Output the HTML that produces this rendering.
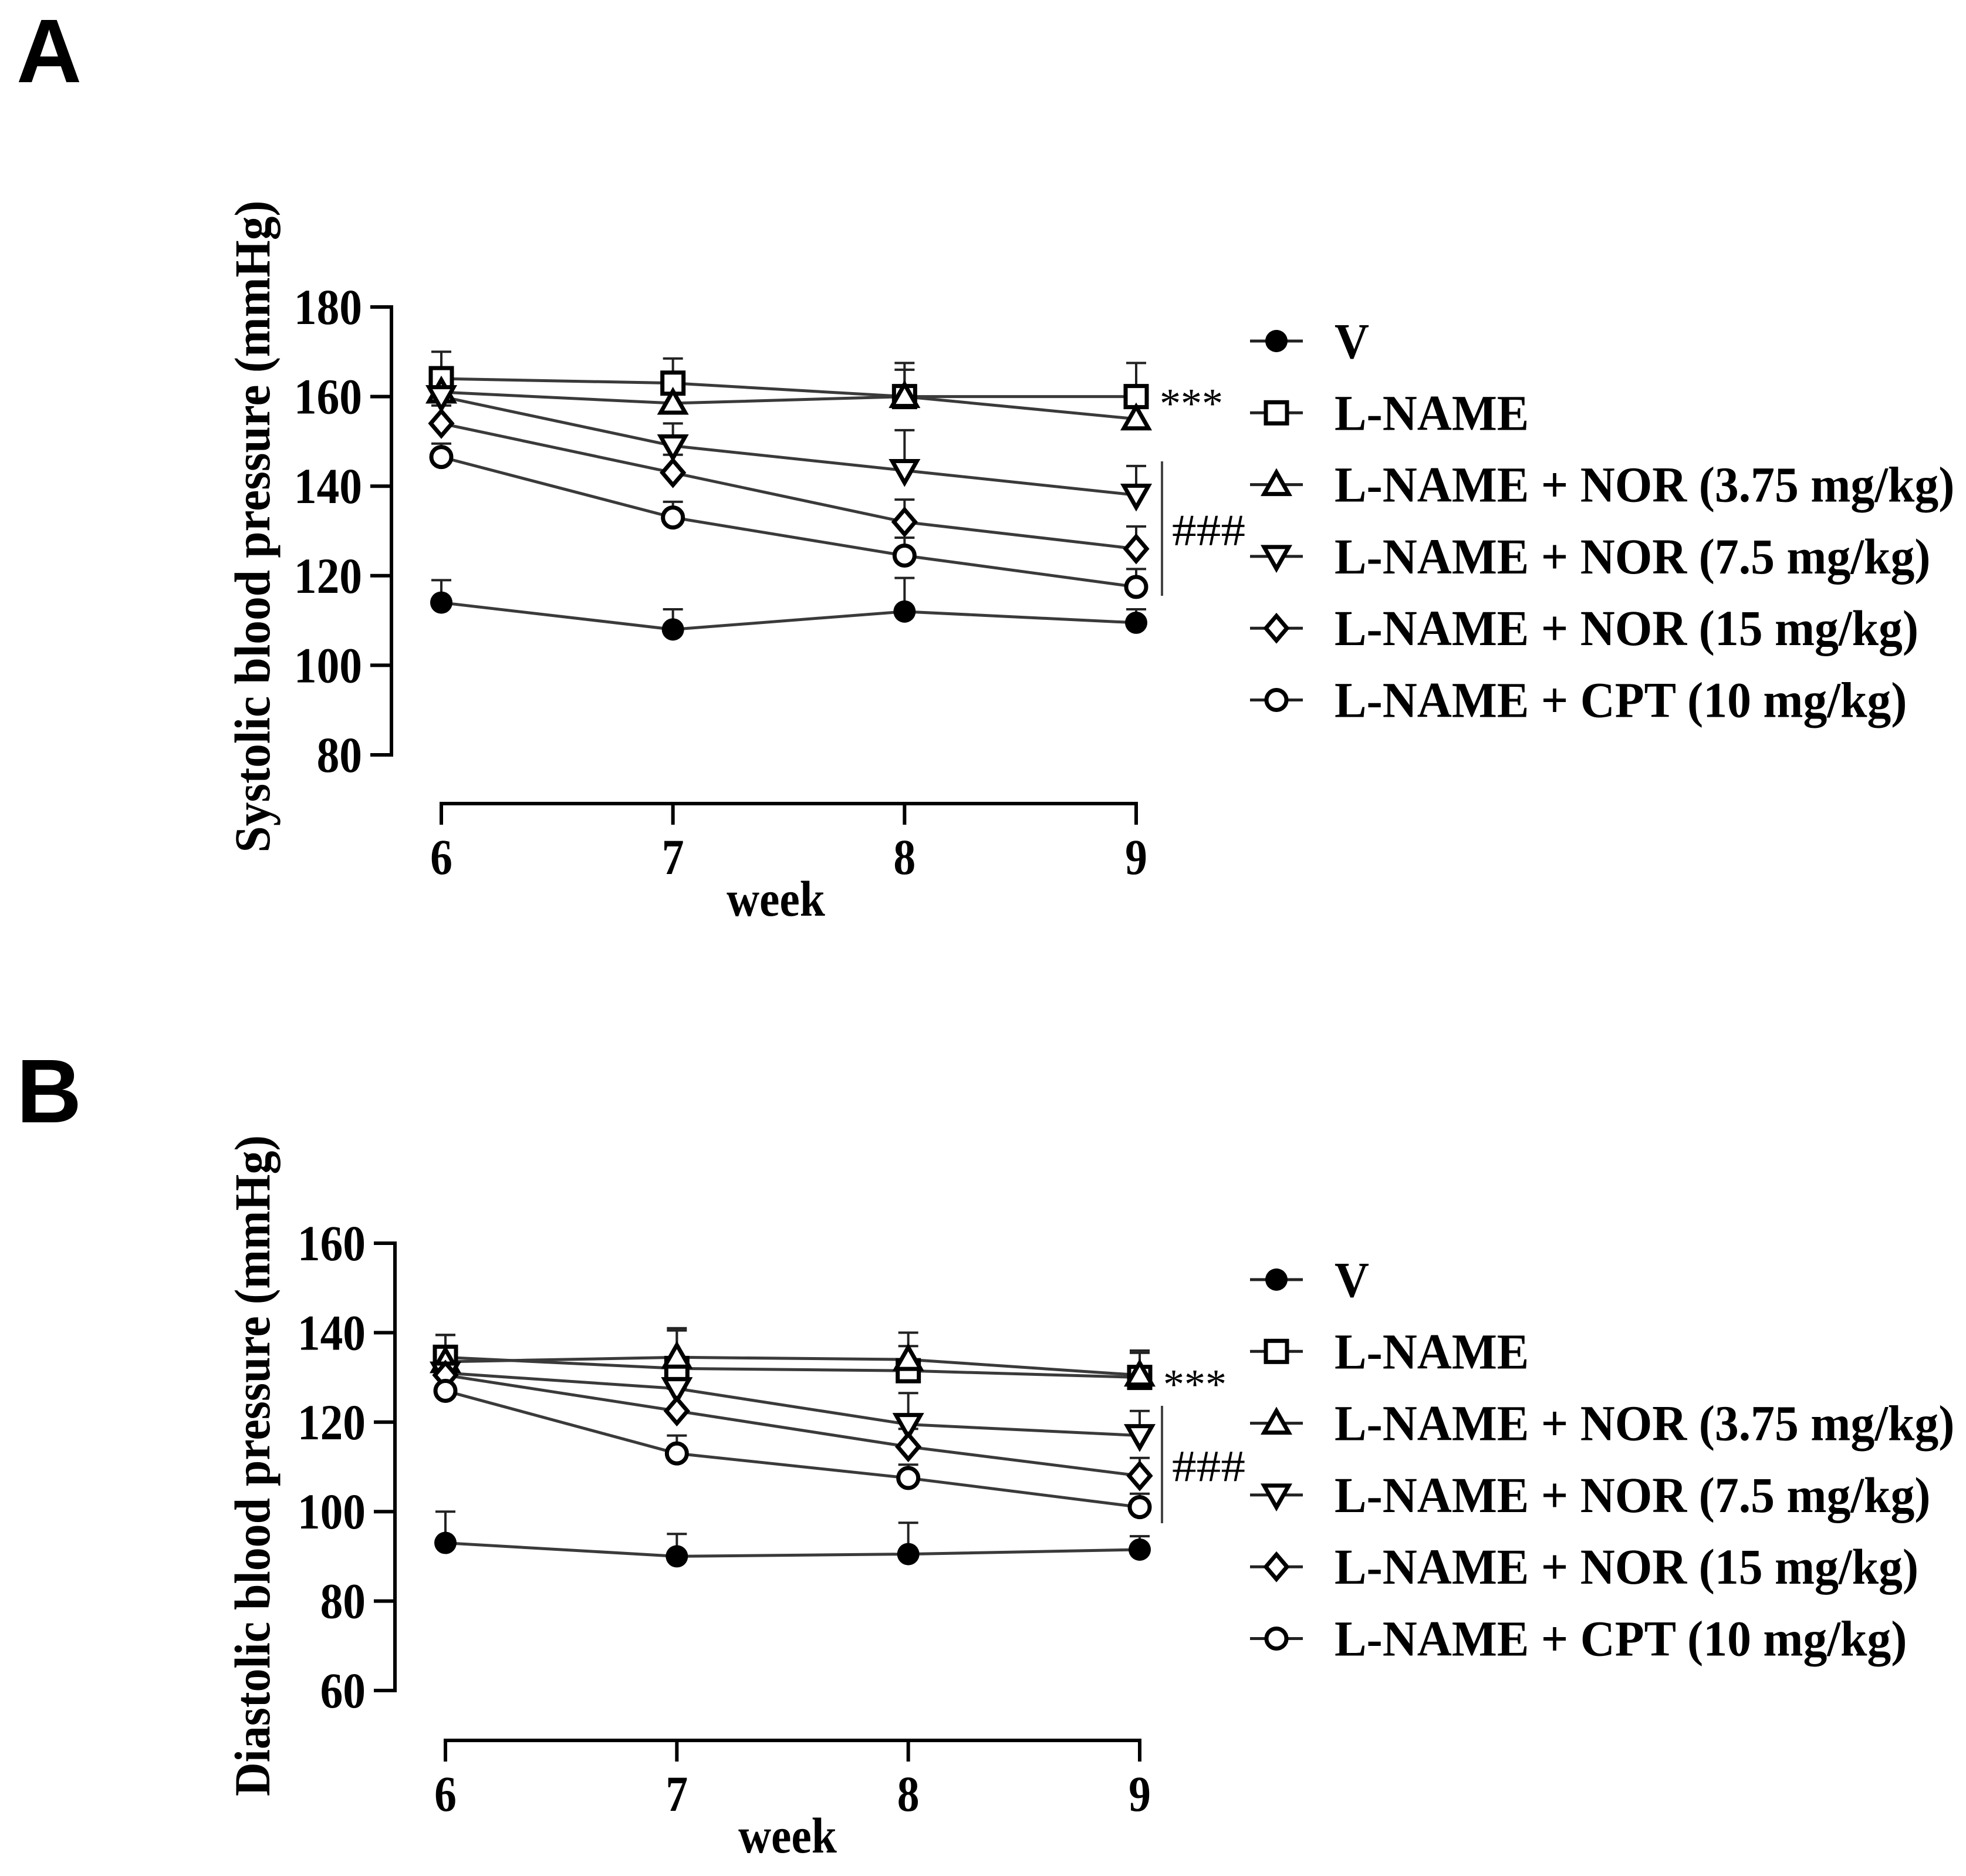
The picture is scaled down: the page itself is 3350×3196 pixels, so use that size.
<!DOCTYPE html>
<html><head><meta charset="utf-8"><style>
html,body{margin:0;padding:0;background:#fff;}
svg{display:block;}
text{font-family:"Liberation Serif",serif;font-weight:bold;fill:#000;}
</style></head><body>
<svg id="fig" width="3350" height="3196" viewBox="0 0 3350 3196" xmlns="http://www.w3.org/2000/svg">
<rect width="3350" height="3196" fill="#fff"/>
<text x="28" y="140" style="font-family:'Liberation Sans',sans-serif;font-size:154px;">A</text>
<text x="28" y="1912" style="font-family:'Liberation Sans',sans-serif;font-size:154px;">B</text>
<g id="panelA"></g>
<g id="panelB"></g>
</svg>
<script>
const weeks = [6, 7, 8, 9];
const seriesNames = ["V", "L-NAME", "L-NAME + NOR (3.75 mg/kg)", "L-NAME + NOR (7.5 mg/kg)", "L-NAME + NOR (15 mg/kg)", "L-NAME + CPT (10 mg/kg)"];
const seriesKeys = ["v", "lname", "nor375", "nor75", "nor15", "cpt10"];
const markers = ["filled-circle", "square", "triangle", "inv-triangle", "diamond", "circle"];

const sysV = [114, 108, 112, 109.5];
const sysLname = [164, 163, 160, 160];
const sysNor375 = [161, 158.5, 160, 155];
const sysNor75 = [160, 149, 143.5, 138];
const sysNor15 = [154, 143, 132, 126];
const sysCpt10 = [146.5, 133, 124.5, 117.5];
const sysErrV = [5, 4.5, 7.5, 3];
const sysErrLname = [6, 5.5, 7.5, 7.5];
const sysErrNor375 = [5, 5, 6, 4];
const sysErrNor75 = [4, 5, 9, 6.5];
const sysErrNor15 = [4, 4, 5, 5];
const sysErrCpt10 = [3, 3.5, 4, 4];
const sysTicks = [80, 100, 120, 140, 160, 180];

const diaV = [93, 90, 90.5, 91.5];
const diaLname = [134.5, 132, 131.5, 130];
const diaNor375 = [133.5, 134.5, 134, 130.5];
const diaNor75 = [131, 127.5, 119.5, 117];
const diaNor15 = [130.5, 122.5, 114.5, 108];
const diaCpt10 = [127, 113, 107.5, 101];
const diaErrV = [7, 5, 7, 3];
const diaErrLname = [5, 8.5, 5.5, 5.5];
const diaErrNor375 = [6, 6.5, 6, 5.5];
const diaErrNor75 = [5, 6, 7, 5.5];
const diaErrNor15 = [4, 5, 4, 4];
const diaErrCpt10 = [4, 4, 3, 3];
const diaTicks = [60, 80, 100, 120, 140, 160];

const NS = "http://www.w3.org/2000/svg";
function mk(parent, tag, attrs) {
  const e = document.createElementNS(NS, tag);
  for (const k in attrs) e.setAttribute(k, attrs[k]);
  parent.appendChild(e);
  return e;
}
function condense(t, f) {
  const w = t.getComputedTextLength();
  t.setAttribute("textLength", (w * f).toFixed(1));
  t.setAttribute("lengthAdjust", "spacingAndGlyphs");
}
function drawMarker(g, type, cx, cy) {
  let m;
  const s = 18;
  if (type === "filled-circle") m = mk(g, "circle", {cx: cx, cy: cy, r: 19, fill: "#000"});
  else if (type === "circle") m = mk(g, "circle", {cx: cx, cy: cy, r: 17, fill: "#fff", stroke: "#000", "stroke-width": 7});
  else if (type === "square") m = mk(g, "rect", {x: cx - s, y: cy - s, width: 2 * s, height: 2 * s, fill: "#fff", stroke: "#000", "stroke-width": 7});
  else if (type === "triangle") m = mk(g, "polygon", {points: `${cx},${cy - 21} ${cx + 21},${cy + 16} ${cx - 21},${cy + 16}`, fill: "#fff", stroke: "#000", "stroke-width": 7});
  else if (type === "inv-triangle") m = mk(g, "polygon", {points: `${cx},${cy + 21} ${cx + 21},${cy - 16} ${cx - 21},${cy - 16}`, fill: "#fff", stroke: "#000", "stroke-width": 7});
  else m = mk(g, "polygon", {points: `${cx},${cy - 21} ${cx + 18},${cy} ${cx},${cy + 21} ${cx - 18},${cy}`, fill: "#fff", stroke: "#000", "stroke-width": 7});
  return m;
}

function drawPanel(gid, cfg) {
  const g = document.getElementById(gid);
  const xS = w => cfg.x0 + (w - weeks[0]) * (cfg.x1 - cfg.x0) / (weeks[weeks.length - 1] - weeks[0]);
  const yS = v => cfg.yBot - (v - cfg.ticks[0]) * (cfg.yBot - cfg.yTop) / (cfg.ticks[cfg.ticks.length - 1] - cfg.ticks[0]);

  const ya = mk(g, "line", {x1: cfg.yAxisX, y1: yS(cfg.ticks[cfg.ticks.length - 1]) - 3, x2: cfg.yAxisX, y2: yS(cfg.ticks[0]) + 3, stroke: "#000", "stroke-width": 6});
  
  
  cfg.ticks.forEach(t => {
    const tk = mk(g, "line", {x1: cfg.yAxisX - 36, y1: yS(t), x2: cfg.yAxisX, y2: yS(t), stroke: "#000", "stroke-width": 6});
    
    
    const tl = mk(g, "text", {x: cfg.yAxisX - 50, y: yS(t) + 29, "text-anchor": "end", "font-size": 86});
    tl.textContent = t;
    
    
    condense(tl, 0.9);
  });
  const xa = mk(g, "line", {x1: xS(weeks[0]) - 3, y1: cfg.xAxisY, x2: xS(weeks[weeks.length - 1]) + 3, y2: cfg.xAxisY, stroke: "#000", "stroke-width": 6});
  
  
  weeks.forEach(w => {
    const tk = mk(g, "line", {x1: xS(w), y1: cfg.xAxisY, x2: xS(w), y2: cfg.xAxisY + 36, stroke: "#000", "stroke-width": 6});
    
    
    const tl = mk(g, "text", {x: xS(w), y: cfg.xAxisY + 120, "text-anchor": "middle", "font-size": 86});
    tl.textContent = w;
    
    
    condense(tl, 0.88);
  });
  const xt = mk(g, "text", {x: cfg.weekX, y: cfg.xAxisY + 191, "text-anchor": "middle", "font-size": 86});
  xt.textContent = "week";
  
  
  condense(xt, 0.9);
  const ytt = mk(g, "text", {x: 0, y: 0, "text-anchor": "middle", "font-size": 86, transform: `translate(459,${cfg.titleY}) rotate(-90)`});
  ytt.textContent = cfg.title;
  
  
  ytt.setAttribute("textLength", cfg.titleLen);
  ytt.setAttribute("lengthAdjust", "spacingAndGlyphs");

  cfg.values.forEach((vals, si) => {
    const sg = mk(g, "g", {});
    
    
    const pts = vals.map((v, i) => `${xS(weeks[i])},${yS(v)}`).join(" ");
    const pl = mk(sg, "polyline", {points: pts, fill: "none", stroke: "#3a3a3a", "stroke-width": 5});
    
    
    vals.forEach((v, i) => {
      const e = cfg.errs[si][i];
      const x = xS(weeks[i]);
      const eb = mk(sg, "line", {x1: x, y1: yS(v), x2: x, y2: yS(v + e), stroke: "#222", "stroke-width": 4});
      
      
      const cap = mk(sg, "line", {x1: x - 17, y1: yS(v + e), x2: x + 17, y2: yS(v + e), stroke: "#222", "stroke-width": 4});
      
      
    });
  });
  cfg.values.forEach((vals, si) => {
    vals.forEach((v, i) => {
      const m = drawMarker(g, markers[si], xS(weeks[i]), yS(v));
      
      
    });
  });

  const st = mk(g, "text", {x: xS(9) + 40, y: yS(cfg.values[1][3]) + 36, "font-size": 72, style: "font-weight:normal"});
  st.textContent = "***";
  
  
  const br = mk(g, "line", {x1: cfg.brX, y1: cfg.brY1, x2: cfg.brX, y2: cfg.brY2, stroke: "#444", "stroke-width": 4});
  
  
  const hs = mk(g, "text", {x: cfg.brX + 17, y: (cfg.brY1 + cfg.brY2) / 2 + 28, "font-size": 76, style: "font-weight:normal"});
  hs.textContent = "###";
  
  
  hs.setAttribute("textLength", 125);
  hs.setAttribute("lengthAdjust", "spacingAndGlyphs");

  const lg = mk(g, "g", {});
  
  
  seriesNames.forEach((nm, si) => {
    const y = cfg.legY0 + si * 122.3;
    const eg = mk(lg, "g", {});
    
    
    mk(eg, "line", {x1: 2130, y1: y, x2: 2220, y2: y, stroke: "#222", "stroke-width": 5});
    drawMarker(eg, markers[si], 2175, y);
    const t = mk(eg, "text", {x: 2274, y: y + 29, "font-size": 86});
    t.textContent = nm;
    condense(t, 0.95);
  });
}

drawPanel("panelA", {
  x0: 752, x1: 1936, yAxisX: 667, yTop: 523, yBot: 1286, xAxisY: 1369, ticks: sysTicks,
  values: [sysV, sysLname, sysNor375, sysNor75, sysNor15, sysCpt10],
  errs: [sysErrV, sysErrLname, sysErrNor375, sysErrNor75, sysErrNor15, sysErrCpt10],
  title: "Systolic blood pressure (mmHg)", titleY: 897, titleLen: 1111, weekX: 1322,
  brX: 1980, brY1: 786, brY2: 1015, legY0: 581
});
drawPanel("panelB", {
  x0: 759, x1: 1942, yAxisX: 673, yTop: 2118, yBot: 2880, xAxisY: 2965, ticks: diaTicks,
  values: [diaV, diaLname, diaNor375, diaNor75, diaNor15, diaCpt10],
  errs: [diaErrV, diaErrLname, diaErrNor375, diaErrNor75, diaErrNor15, diaErrCpt10],
  title: "Diastolic blood pressure (mmHg)", titleY: 2497, titleLen: 1126, weekX: 1342,
  brX: 1980, brY1: 2395, brY2: 2595, legY0: 2180
});
</script>
</body></html>
